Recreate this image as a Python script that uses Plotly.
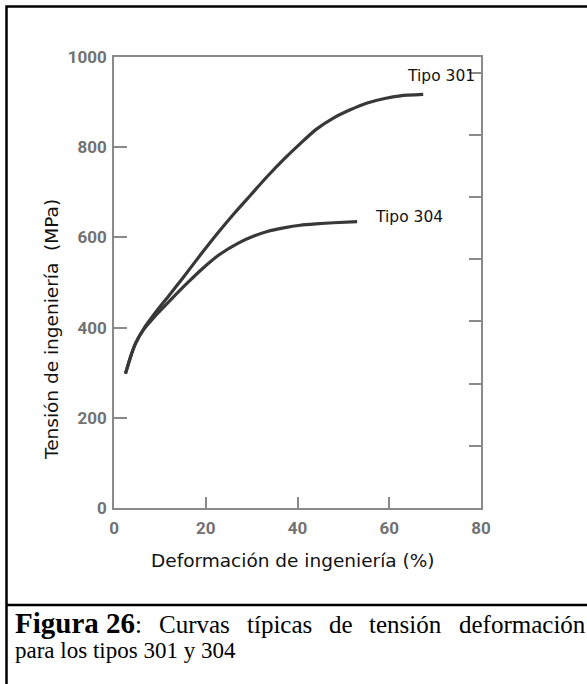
import plotly.graph_objects as go

# ---- data ----
strain_301 = [2.5, 3.6, 4.7, 6.5, 9.0, 12.3, 15.0, 18.9, 22.8, 26.1, 29.7, 33.4, 37.0, 40.6, 44.0, 47.9, 51.5, 55.2, 59.0, 62.4, 67.4]
stress_301 = [298, 335, 365, 398, 433, 475, 510, 562, 612, 652, 693, 735, 773, 808, 839, 865, 883, 898, 908, 914, 917]

strain_304 = [2.5, 3.6, 4.7, 6.5, 9.0, 12.3, 16.0, 19.2, 23.0, 27.2, 30.5, 33.4, 37.0, 40.6, 44.0, 47.9, 53.0]
stress_304 = [298, 335, 365, 396, 426, 461, 499, 530, 562, 588, 603, 613, 621, 627, 630, 632.5, 635]

x_ticks = [0, 20, 40, 60, 80]
y_ticks = [0, 200, 400, 600, 800, 1000]
ksi_ticks = [20, 40, 60, 80, 100, 120, 140]
MPA_PER_KSI = 6.895

labels = ["Tipo 301", "Tipo 304"]
x_title = "Deformación de ingeniería (%)"
y_title = "Tensión de ingeniería  (MPa)"
caption_bold = "Figura 26"
caption_words = [":", "Curvas", "típicas", "de", "tensión", "deformación"]
caption_line2 = "para los tipos 301 y 304"

# ---- layout geometry (pixels) ----
W, H = 587, 684
L, R, T, B = 114, 106, 57, 176
PW, PH = W - L - R, H - T - B


def px(x):
    return (x - L) / PW


def py(y):
    return (H - B - y) / PH


# Times / Liberation Serif advance widths (em) for justifying caption line 1
TIMES_REG = {"C": .667, "u": .5, "r": .333, "v": .5, "a": .444, "s": .389, "t": .278,
             "í": .278, "p": .5, "i": .278, "c": .444, "d": .5, "e": .444, "n": .5,
             "ó": .5, "f": .333, "o": .5, "m": .778, ":": .278}


def word_w(word, size):
    return sum(TIMES_REG.get(ch, .5) for ch in word) * size


line_col = "#383838"
axis_col = "#8a8a8a"
tick_font = dict(family="Roboto", size=17, color="#727272", weight="bold")
label_font = dict(family="DejaVu Sans", size=15.5, color="#111111")
title_font = dict(family="DejaVu Sans", size=18.5, color="#111111")
serif = "Liberation Serif"
REG1, REG2, BOLD = 25, 23, 29
cap_left, cap_right = 13, 583
bold_w = (2.889 + 0.25 + 1.0) * BOLD

fig = go.Figure()
fig.add_trace(go.Scatter(x=strain_301, y=stress_301, mode="lines",
                         line=dict(color=line_col, width=3.2, shape="spline", smoothing=0.6),
                         showlegend=False, hoverinfo="skip"))
fig.add_trace(go.Scatter(x=strain_304, y=stress_304, mode="lines",
                         line=dict(color=line_col, width=3.2, shape="spline", smoothing=0.6),
                         showlegend=False, hoverinfo="skip"))
# invisible trace to carry the right-hand (ksi) axis
fig.add_trace(go.Scatter(x=[0], y=[0], yaxis="y2", mode="markers",
                         marker=dict(opacity=0), showlegend=False, hoverinfo="skip"))

fig.update_layout(
    width=W, height=H,
    margin=dict(l=L, r=R, t=T, b=B, pad=0),
    paper_bgcolor="white", plot_bgcolor="white",
    xaxis=dict(range=[0, 80], tickvals=x_ticks, ticks="inside", ticklen=11, tickwidth=1.5,
               tickcolor=axis_col, showline=True, linecolor=axis_col, linewidth=1.5,
               mirror=True, showgrid=False, zeroline=False, tickfont=tick_font,
               ticklabelstandoff=4),
    yaxis=dict(range=[0, 1000], tickvals=y_ticks, ticks="inside", ticklen=13, tickwidth=1.5,
               tickcolor=axis_col, showline=True, linecolor=axis_col, linewidth=1.5,
               showgrid=False, zeroline=False, tickfont=tick_font, ticklabelstandoff=2),
    yaxis2=dict(overlaying="y", side="right", range=[0, 1000 / MPA_PER_KSI],
                tickvals=ksi_ticks, ticks="inside", ticklen=12, tickwidth=1.5,
                tickcolor=axis_col, showline=True, linecolor=axis_col, linewidth=1.5,
                showticklabels=False, showgrid=False, zeroline=False),
)

annotations = [
    dict(text=labels[0], x=px(441), y=py(76), xref="paper", yref="paper",
         showarrow=False, font=label_font, xanchor="center", yanchor="middle"),
    dict(text=labels[1], x=px(409), y=py(217), xref="paper", yref="paper",
         showarrow=False, font=label_font, xanchor="center", yanchor="middle"),
    dict(text=x_title, x=px(293), y=py(560), xref="paper", yref="paper",
         showarrow=False, font=title_font, xanchor="center", yanchor="middle"),
    dict(text=y_title, x=px(51), y=py(330), xref="paper", yref="paper", textangle=-90,
         showarrow=False, font=title_font, xanchor="center", yanchor="middle"),
    dict(text="<b>" + caption_bold + "</b>", x=px(cap_left), y=py(630),
         xref="paper", yref="paper", showarrow=False, xanchor="left", yanchor="bottom",
         yshift=-11, font=dict(family=serif, size=BOLD, color="#000000")),
    dict(text=caption_line2, x=px(cap_left), y=py(656),
         xref="paper", yref="paper", showarrow=False, xanchor="left", yanchor="bottom",
         yshift=-9, font=dict(family=serif, size=REG2, color="#000000")),
]

# justified first caption line: colon after the bold part, words spread to the right edge
colon_x = cap_left + bold_w
words = caption_words[1:]
widths = [word_w(w, REG1) for w in words]
start = colon_x + word_w(":", REG1)
gap = (cap_right - start - sum(widths)) / len(words)
annotations.append(dict(text=caption_words[0], x=px(colon_x), y=py(630), xref="paper",
                        yref="paper", showarrow=False, xanchor="left", yanchor="bottom",
                        yshift=-10, font=dict(family=serif, size=REG1, color="#000000")))
xcur = start + gap
for w, ww in zip(words, widths):
    annotations.append(dict(text=w, x=px(xcur), y=py(630), xref="paper", yref="paper",
                            showarrow=False, xanchor="left", yanchor="bottom", yshift=-10,
                            font=dict(family=serif, size=REG1, color="#000000")))
    xcur += ww + gap

fig.update_layout(annotations=annotations)

shapes = [
    dict(type="rect", xref="paper", yref="paper", x0=px(6.5), x1=px(600), y0=py(6.5), y1=py(700),
         line=dict(color="black", width=2.5)),
    dict(type="line", xref="paper", yref="paper", x0=px(6.5), x1=px(600), y0=py(605), y1=py(605),
         line=dict(color="black", width=2.5)),
]
fig.update_layout(shapes=shapes)

fig.write_html("out.html")
